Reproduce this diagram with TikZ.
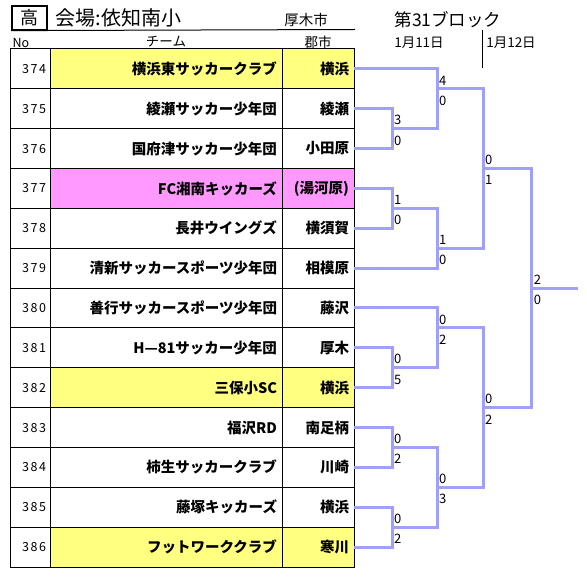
\documentclass[tikz,border=0pt]{standalone}
\usepackage{fontspec}
\setmainfont{Noto Sans CJK JP}
\usetikzlibrary{positioning}
\definecolor{ylw}{HTML}{FFFF80}
\definecolor{pnk}{HTML}{FF99FF}
\definecolor{brk}{HTML}{A0A0FA}
\tikzset{
    nocell/.style={draw, line width=1pt, outer sep=0pt, minimum height=39.85pt,
        inner xsep=4pt, text width=32pt, align=right,
        font=\fontsize{12.5}{14}\selectfont\addfontfeature{LetterSpace=12}},
    teamcell/.style={draw, line width=1pt, outer sep=0pt, minimum height=39.85pt,
        inner xsep=5pt, text width=222pt, align=right,
        font=\fontsize{14.5}{16}\selectfont\bfseries},
    citycell/.style={draw, line width=1pt, outer sep=0pt, minimum height=39.85pt,
        inner xsep=5pt, text width=62pt, align=right,
        font=\fontsize{14.5}{16}\selectfont\bfseries},
    bracket/.style={draw=brk, line width=3pt},
    scoreup/.style={anchor=south west, inner xsep=2pt, inner ysep=3.5pt,
        font=\fontsize{13}{15}\selectfont},
    scoredn/.style={anchor=north west, inner xsep=2pt, inner ysep=6.8pt,
        font=\fontsize{13}{15}\selectfont}
}
\begin{document}
\begin{tikzpicture}[x=1pt,y=-1pt]
    \useasboundingbox (0,0) rectangle (587,580);
    % heading
    \node[draw, line width=2pt, minimum width=35pt, minimum height=22pt,
        font=\fontsize{18}{20}\selectfont] (hi) at (29.5,18) {高};
    \node[right=4pt of hi, font=\fontsize{20}{22}\selectfont] (venue) {会場:依知南小};
    \node[font=\fontsize{14.5}{16}\selectfont] (town) at (306,20) {厚木市};
    \node[font=\fontsize{17.5}{19}\selectfont] (block) at (448,20) {第31ブロック};
    \draw[line width=1pt] (hi.south west) -- (355,29.5) coordinate (rule);
    \node[font=\fontsize{12.5}{14}\selectfont] (nohead) at (21,43) {No};
    \node[font=\fontsize{13.5}{15}\selectfont] (teamhead) at (166,42) {チーム};
    \node[font=\fontsize{13.5}{15}\selectfont] (cityhead) at (318,42) {郡市};
    \node[font=\fontsize{13.5}{15}\selectfont] (day1) at (419,43) {1月11日};
    \node[font=\fontsize{13.5}{15}\selectfont] (day2) at (511,43) {1月12日};
    \coordinate (sep) at (482,30);
    \draw[line width=1pt] (sep) -- ++(0,38);
    %%
    \node[nocell] (n374) at (30,68.9) {374};
    \node[nocell, below=0pt of n374] (n375) {375};
    \node[nocell, below=0pt of n375] (n376) {376};
    \node[nocell, below=0pt of n376] (n377) {377};
    \node[nocell, below=0pt of n377] (n378) {378};
    \node[nocell, below=0pt of n378] (n379) {379};
    \node[nocell, below=0pt of n379] (n380) {380};
    \node[nocell, below=0pt of n380] (n381) {381};
    \node[nocell, below=0pt of n381] (n382) {382};
    \node[nocell, below=0pt of n382] (n383) {383};
    \node[nocell, below=0pt of n383] (n384) {384};
    \node[nocell, below=0pt of n384] (n385) {385};
    \node[nocell, below=0pt of n385] (n386) {386};
    %%
    \node[teamcell, fill=ylw, right=0pt of n374] (t374) {横浜東サッカークラブ};
    \node[teamcell, right=0pt of n375] (t375) {綾瀬サッカー少年団};
    \node[teamcell, right=0pt of n376] (t376) {国府津サッカー少年団};
    \node[teamcell, fill=pnk, right=0pt of n377] (t377) {FC湘南キッカーズ};
    \node[teamcell, right=0pt of n378] (t378) {長井ウイングズ};
    \node[teamcell, right=0pt of n379] (t379) {清新サッカースポーツ少年団};
    \node[teamcell, right=0pt of n380] (t380) {善行サッカースポーツ少年団};
    \node[teamcell, right=0pt of n381] (t381) {H—81サッカー少年団};
    \node[teamcell, fill=ylw, right=0pt of n382] (t382) {三保小SC};
    \node[teamcell, right=0pt of n383] (t383) {福沢RD};
    \node[teamcell, right=0pt of n384] (t384) {柿生サッカークラブ};
    \node[teamcell, right=0pt of n385] (t385) {藤塚キッカーズ};
    \node[teamcell, fill=ylw, right=0pt of n386] (t386) {フットワーククラブ};
    %%
    \node[citycell, fill=ylw, right=0pt of t374] (c374) {横浜};
    \node[citycell, right=0pt of t375] (c375) {綾瀬};
    \node[citycell, right=0pt of t376] (c376) {小田原};
    \node[citycell, fill=pnk, right=0pt of t377] (c377) {(湯河原)};
    \node[citycell, right=0pt of t378] (c378) {横須賀};
    \node[citycell, right=0pt of t379] (c379) {相模原};
    \node[citycell, right=0pt of t380] (c380) {藤沢};
    \node[citycell, right=0pt of t381] (c381) {厚木};
    \node[citycell, fill=ylw, right=0pt of t382] (c382) {横浜};
    \node[citycell, right=0pt of t383] (c383) {南足柄};
    \node[citycell, right=0pt of t384] (c384) {川崎};
    \node[citycell, right=0pt of t385] (c385) {横浜};
    \node[citycell, fill=ylw, right=0pt of t386] (c386) {寒川};
    %% bracket joins
    \coordinate (r1a) at (392,128.7);
    \coordinate (r1b) at (392,208.4);
    \coordinate (r1c) at (392,367.8);
    \coordinate (r1d) at (392,447.5);
    \coordinate (r1e) at (392,527.2);
    \coordinate (r2a) at (437,88.8);
    \coordinate (r2b) at (437,248.3);
    \coordinate (r2c) at (437,328.0);
    \coordinate (r2d) at (437,487.4);
    \coordinate (sf1) at (483,168.5);
    \coordinate (sf2) at (483,407.7);
    \coordinate (fin) at (531.7,288.1);
    \coordinate (win) at (578,288.1);
    %%
    \draw[bracket] (c375.east) -| (r1a) |- (c376.east);
    \draw[bracket] (c377.east) -| (r1b) |- (c378.east);
    \draw[bracket] (c381.east) -| (r1c) |- (c382.east);
    \draw[bracket] (c383.east) -| (r1d) |- (c384.east);
    \draw[bracket] (c385.east) -| (r1e) |- (c386.east);
    \draw[bracket] (c374.east) -| (r2a) |- (r1a);
    \draw[bracket] (r1b) -| (r2b) |- (c379.east);
    \draw[bracket] (c380.east) -| (r2c) |- (r1c);
    \draw[bracket] (r1d) -| (r2d) |- (r1e);
    \draw[bracket] (r2a) -| (sf1) |- (r2b);
    \draw[bracket] (r2c) -| (sf2) |- (r2d);
    \draw[bracket] (sf1) -| (fin) |- (sf2);
    \draw[bracket] (fin) -- (win);
    %% scores
    \node[scoreup] (s1a) at (r1a) {3};
    \node[scoredn] (s1A) at (r1a) {0};
    \node[scoreup] (s1b) at (r1b) {1};
    \node[scoredn] (s1B) at (r1b) {0};
    \node[scoreup] (s1c) at (r1c) {0};
    \node[scoredn] (s1C) at (r1c) {5};
    \node[scoreup] (s1d) at (r1d) {0};
    \node[scoredn] (s1D) at (r1d) {2};
    \node[scoreup] (s1e) at (r1e) {0};
    \node[scoredn] (s1E) at (r1e) {2};
    \node[scoreup] (s2a) at (r2a) {4};
    \node[scoredn] (s2A) at (r2a) {0};
    \node[scoreup] (s2b) at (r2b) {1};
    \node[scoredn] (s2B) at (r2b) {0};
    \node[scoreup] (s2c) at (r2c) {0};
    \node[scoredn] (s2C) at (r2c) {2};
    \node[scoreup] (s2d) at (r2d) {0};
    \node[scoredn] (s2D) at (r2d) {3};
    \node[scoreup] (s3a) at (sf1) {0};
    \node[scoredn] (s3A) at (sf1) {1};
    \node[scoreup] (s3b) at (sf2) {0};
    \node[scoredn] (s3B) at (sf2) {2};
    \node[scoreup] (s4) at (fin) {2};
    \node[scoredn] (s4A) at (fin) {0};
\end{tikzpicture}
\end{document}
